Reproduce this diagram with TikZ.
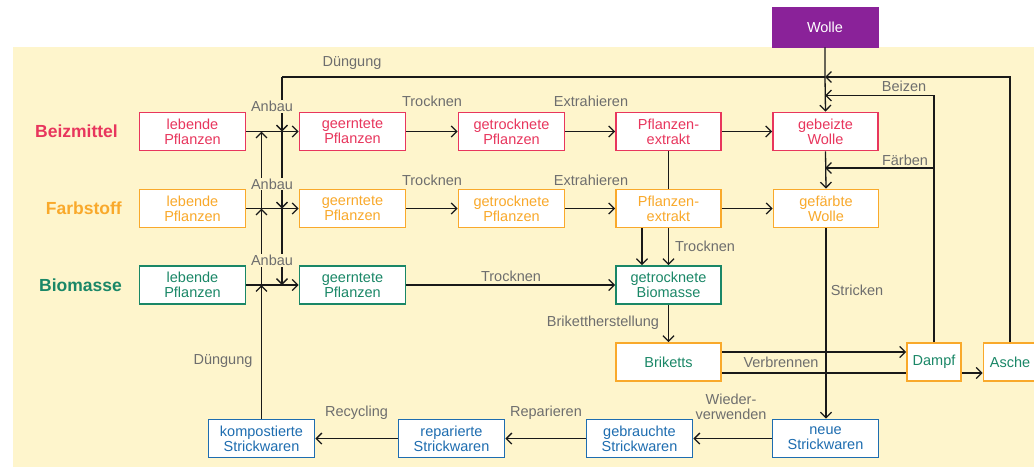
\documentclass[tikz,border=0pt]{standalone}
\usepackage{fontspec}
\setmainfont{Liberation Sans}
\usetikzlibrary{arrows.meta}
\definecolor{bgc}{HTML}{FEF5CC}
\definecolor{crim}{HTML}{E8365D}
\definecolor{oran}{HTML}{F9A92B}
\definecolor{gree}{HTML}{1A8767}
\definecolor{blu}{HTML}{1E6DB0}
\definecolor{purp}{HTML}{8A2299}
\definecolor{labc}{HTML}{6E6E6E}
\begin{document}
\begin{tikzpicture}[x=1pt,y=-1pt,
  box/.style={draw, fill=white, line width=1.8pt, minimum width=106pt, minimum height=38pt,
    align=center, inner sep=0pt, font=\fontsize{14.5}{15}\selectfont},
  cr/.style={box, draw=crim, text=crim},
  og/.style={box, draw=oran, text=oran},
  gr/.style={box, draw=gree, text=gree},
  bl/.style={box, draw=blu, text=blu},
  ob/.style={box, draw=oran, text=gree},
  lab/.style={text=labc, fill=bgc, font=\fontsize{14.5}{15}\selectfont, inner sep=1pt, align=center},
  row/.style={font=\fontsize{17.5}{18}\selectfont\bfseries, inner sep=0pt, anchor=east},
  con/.style={line width=1.3pt, black!90},
  arr/.style={con, -{Straight Barb[length=5.5pt,width=11pt,line width=1.3pt]}}
]
\useasboundingbox (0,0) rectangle (1034,467);
\fill[bgc] (13,47) rectangle (1040,467);

% left row labels
\node[row, text=crim] (lb) at (118,131.5) {Beizmittel};
\node[row, text=oran] (lf) at (122,208.5) {Farbstoff};
\node[row, text=gree] (lm) at (122,285) {Biomasse};

% Wolle
\node[box, draw=purp, fill=purp, text=white, minimum height=40pt, line width=0.5pt] (wolle) at (825,27) {Wolle};

% Beizmittel row
\node[cr] (b1) at (192.5,131.5) {lebende\\Pflanzen};
\node[cr] (b2) at (352.5,131.5) {geerntete\\Pflanzen};
\node[cr] (b3) at (511.5,131.5) {getrocknete\\Pflanzen};
\node[cr, minimum width=105pt] (b4) at (668.5,131.5) {Pflanzen-\\extrakt};
\node[cr, minimum width=105pt] (b5) at (825.5,131.5) {gebeizte\\Wolle};

% Farbstoff row
\node[og] (f1) at (192.5,208.5) {lebende\\Pflanzen};
\node[og] (f2) at (352.5,208.5) {geerntete\\Pflanzen};
\node[og] (f3) at (511.5,208.5) {getrocknete\\Pflanzen};
\node[og, minimum width=105pt] (f4) at (668.5,208.5) {Pflanzen-\\extrakt};
\node[og, minimum width=105pt] (f5) at (826,208.5) {gefärbte\\Wolle};

% Biomasse row
\node[gr] (m1) at (192.5,285) {lebende\\Pflanzen};
\node[gr] (m2) at (352.5,285) {geerntete\\Pflanzen};
\node[gr, minimum width=105pt] (m4) at (668.5,285) {getrocknete\\Biomasse};

% Briketts row
\node[ob, minimum width=105pt] (br) at (668.5,362) {Briketts};
\node[ob, minimum width=54pt] (da) at (934,362) {Dampf};
\node[ob, minimum width=53pt] (as) at (1010,362) {Asche};

% Strickwaren row
\node[bl] (s4) at (825.5,438.5) {neue\\Strickwaren};
\node[bl] (s3) at (639.5,438.5) {gebrauchte\\Strickwaren};
\node[bl] (s2) at (451.5,438.5) {reparierte\\Strickwaren};
\node[bl] (s1) at (261.5,438.5) {kompostierte\\Strickwaren};

% junction coordinates
\coordinate (dtop) at (282,77);
\coordinate (wtop) at (825,77);
\coordinate (wbz) at (825,95.5);
\coordinate (wfa) at (825,168);
\coordinate (dbz) at (934,95.5);
\coordinate (dfa) at (934,168);
\coordinate (atop) at (1010,77);

% Anbau arrows
\foreach \a/\b in {b1/b2, f1/f2, m1/m2} \draw[arr] (\a.east) -- (\b.west);
% Duengung up line with tips
\draw[arr] (s1.north) -- (s1.north |- m1.east);
\draw[arr] (s1.north |- m1.east) -- (s1.north |- f1.east);
\draw[arr] (s1.north |- f1.east) -- (s1.north |- b1.east);
% Duengung down line from top
\draw[con] (wtop) -- (dtop);
\draw[arr] (dtop) -- (dtop |- b1.east);
\draw[arr] (dtop |- b1.east) -- (dtop |- f1.east);
\draw[arr] (dtop |- f1.east) -- (dtop |- m1.east);

% row arrows
\draw[arr] (b2) -- (b3);
\draw[arr] (b3) -- (b4);
\draw[arr] (b4) -- (b5);
\draw[arr] (f2) -- (f3);
\draw[arr] (f3) -- (f4);
\draw[arr] (f4) -- (f5);
\draw[arr] (m2) -- (m4);

% extract down
\draw[con] (b4.south) -- (f4.north);
\draw[arr] (f4.south) -- (m4.north);
\draw[arr] ([xshift=-26.5pt]f4.south) -- ([xshift=-26.5pt]m4.north);
\draw[arr] (m4.south) -- (br.north);

% Briketts to Dampf / Asche
\draw[con] ([yshift=-11pt]br.east) -- ([yshift=-11pt]da.west);
\draw[arr] ([yshift=-11pt]da.east) -- ([yshift=-11pt]as.west);
\draw[arr] ([yshift=10pt]br.east) -- ([yshift=10pt]da.west);

% Wolle line
\draw[arr] (wolle.south) -- (wtop) -- (b5.north);
\draw[arr] (b5.south) -- (f5.south |- f5.north);
\draw[arr] (f5.south) -- (f5.south |- s4.north);

% Asche / Dampf back lines
\draw[arr] (as.north) -- (atop) -- (wtop);
\draw[arr] (da.north) -- (dbz) -- (wbz);
\draw[arr] (dfa) -- (wfa);

% Strickwaren arrows
\draw[arr] (s4) -- (s3);
\draw[arr] (s3) -- (s2);
\draw[arr] (s2) -- (s1);

% labels
\node[lab] (l1) at (352,63.5) {Düngung};
\node[lab] (l2) at (272,106.5) {Anbau};
\node[lab] (l3) at (272,184) {Anbau};
\node[lab] (l4) at (272,260.5) {Anbau};
\node[lab] (l5) at (432,101.5) {Trocknen};
\node[lab] (l6) at (432,180) {Trocknen};
\node[lab] (l7) at (591,101.5) {Extrahieren};
\node[lab] (l8) at (591,180) {Extrahieren};
\node[lab] (l9) at (904,86) {Beizen};
\node[lab] (l10) at (905,160) {Färben};
\node[lab] (l11) at (511,276) {Trocknen};
\node[lab] (l12) at (705,246) {Trocknen};
\node[lab] (l13) at (857,290) {Stricken};
\node[lab] (l14) at (603,323) {Brikettherstellung};
\node[lab] (l15) at (781,362) {Verbrennen};
\node[lab] (l16) at (731,406.5) {Wieder-\\verwenden};
\node[lab] (l17) at (546,413) {Reparieren};
\node[lab] (l18) at (356.5,413) {Recycling};
\node[lab] (l19) at (223,361) {Düngung};
\end{tikzpicture}
\end{document}
